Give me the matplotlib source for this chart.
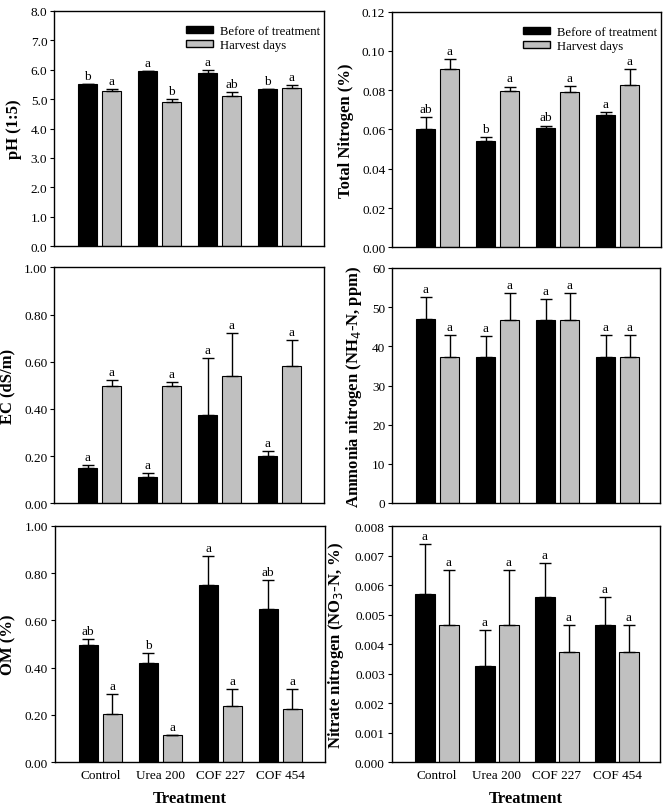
import matplotlib
matplotlib.use("Agg")
import matplotlib.pyplot as plt
import numpy as np
from matplotlib.patches import Patch

plt.rcParams['font.family'] = ['Liberation Serif', 'DejaVu Serif']

treatments = ["Control", "Urea 200", "COF 227", "COF 454"]
series_names = ["Before of treatment", "Harvest days"]

ph_before = [5.50, 5.96, 5.88, 5.34]
ph_before_err = [0.0, 0.0, 0.09, 0.0]
ph_harvest = [5.27, 4.89, 5.12, 5.38]
ph_harvest_err = [0.06, 0.11, 0.11, 0.10]
ph_letters_before = ["b", "a", "a", "b"]
ph_letters_harvest = ["a", "b", "ab", "a"]

tn_before = [0.0601, 0.0543, 0.0607, 0.0672]
tn_before_err = [0.0061, 0.0017, 0.0013, 0.0019]
tn_harvest = [0.0906, 0.0794, 0.0789, 0.0825]
tn_harvest_err = [0.0055, 0.0025, 0.0034, 0.0085]
tn_letters_before = ["ab", "b", "ab", "a"]
tn_letters_harvest = ["a", "a", "a", "a"]

ec_before = [0.150, 0.112, 0.373, 0.200]
ec_before_err = [0.011, 0.018, 0.244, 0.022]
ec_harvest = [0.496, 0.496, 0.538, 0.580]
ec_harvest_err = [0.028, 0.017, 0.182, 0.110]
ec_letters_before = ["a", "a", "a", "a"]
ec_letters_harvest = ["a", "a", "a", "a"]

nh_before = [47.1, 37.4, 46.8, 37.4]
nh_before_err = [5.4, 5.2, 5.2, 5.4]
nh_harvest = [37.4, 46.8, 46.8, 37.4]
nh_harvest_err = [5.4, 6.7, 6.7, 5.4]
nh_letters_before = ["a", "a", "a", "a"]
nh_letters_harvest = ["a", "a", "a", "a"]

om_before = [0.496, 0.420, 0.748, 0.648]
om_before_err = [0.025, 0.041, 0.122, 0.121]
om_harvest = [0.203, 0.114, 0.237, 0.227]
om_harvest_err = [0.085, 0.003, 0.072, 0.082]
om_letters_before = ["ab", "b", "a", "ab"]
om_letters_harvest = ["a", "a", "a", "a"]

no_before = [0.00570, 0.00327, 0.00560, 0.00464]
no_before_err = [0.00170, 0.00120, 0.00116, 0.00096]
no_harvest = [0.00464, 0.00464, 0.00373, 0.00373]
no_harvest_err = [0.00187, 0.00187, 0.00091, 0.00091]
no_letters_before = ["a", "a", "a", "a"]
no_letters_harvest = ["a", "a", "a", "a"]

W, H = 669, 812
fig = plt.figure(figsize=(W / 100, H / 100), dpi=100)

def add_ax(left, top, right, bottom):
    return fig.add_axes([left / W, (H - bottom) / H, (right - left) / W, (bottom - top) / H]), right - left

panels = [
    dict(box=(54.3, 11.7, 324.3, 247.3), before=ph_before, be=ph_before_err, harvest=ph_harvest, he=ph_harvest_err,
         lb=ph_letters_before, lh=ph_letters_harvest, ylim=(0, 8), step=1.0, fmt="{:.1f}", ylabel="pH (1:5)", legend=True),
    dict(box=(392.3, 12.7, 660.7, 248.3), before=tn_before, be=tn_before_err, harvest=tn_harvest, he=tn_harvest_err,
         lb=tn_letters_before, lh=tn_letters_harvest, ylim=(0, 0.12), step=0.02, fmt="{:.2f}", ylabel="Total Nitrogen (%)", legend=True),
    dict(box=(54.3, 268.3, 324.3, 504.3), before=ec_before, be=ec_before_err, harvest=ec_harvest, he=ec_harvest_err,
         lb=ec_letters_before, lh=ec_letters_harvest, ylim=(0, 1.0), step=0.2, fmt="{:.2f}", ylabel="EC (dS/m)", legend=False),
    dict(box=(392.3, 269.0, 660.0, 504.0), before=nh_before, be=nh_before_err, harvest=nh_harvest, he=nh_harvest_err,
         lb=nh_letters_before, lh=nh_letters_harvest, ylim=(0, 60), step=10, fmt="{:.0f}", ylabel="Ammonia nitrogen (NH$_4$-N, ppm)", legend=False),
    dict(box=(55.0, 526.7, 325.0, 763.3), before=om_before, be=om_before_err, harvest=om_harvest, he=om_harvest_err,
         lb=om_letters_before, lh=om_letters_harvest, ylim=(0, 1.0), step=0.2, fmt="{:.2f}", ylabel="OM (%)", legend=False, xt=True),
    dict(box=(391.7, 527.3, 660.0, 763.3), before=no_before, be=no_before_err, harvest=no_harvest, he=no_harvest_err,
         lb=no_letters_before, lh=no_letters_harvest, ylim=(0, 0.008), step=0.001, fmt="{:.3f}", ylabel="Nitrate nitrogen (NO$_3$-N, %)", legend=False, xt=True),
]

x = np.arange(len(treatments))
bw = 0.32
off = 0.2
for p in panels:
    ax, wpx = add_ax(*p["box"])
    x0 = -0.755
    ax.set_xlim(x0, x0 + wpx / 60.0)
    ax.set_ylim(*p["ylim"])
    ek = dict(ecolor="black", elinewidth=1.0, capsize=4, capthick=1.0)
    ax.bar(x - off, p["before"], bw, color="black", edgecolor="black", linewidth=0.8,
           yerr=[np.zeros(4), p["be"]], error_kw=ek, zorder=2)
    ax.bar(x + off, p["harvest"], bw, color="#c0c0c0", edgecolor="black", linewidth=0.8,
           yerr=[np.zeros(4), p["he"]], error_kw=ek, zorder=2)
    for i in range(4):
        ax.annotate(p["lb"][i], (x[i] - off, p["before"][i] + p["be"][i]), xytext=(0, 1.5),
                    textcoords="offset points", ha="center", va="bottom", fontsize=9.5)
        ax.annotate(p["lh"][i], (x[i] + off, p["harvest"][i] + p["he"][i]), xytext=(0, 1.5),
                    textcoords="offset points", ha="center", va="bottom", fontsize=9.5)
    lo, hi = p["ylim"]
    ticks = np.arange(lo, hi + p["step"] / 2, p["step"])
    ax.set_yticks(ticks)
    ax.set_yticklabels([p["fmt"].format(t) for t in ticks], fontsize=9.5)
    ax.tick_params(axis="y", direction="out", length=3, width=0.8, pad=2)
    ax.tick_params(axis="x", length=0)
    for s in ax.spines.values():
        s.set_linewidth(1.0)
    ax.set_ylabel(p["ylabel"], fontsize=12, fontweight="bold", labelpad=6)
    if p.get("xt"):
        ax.set_xticks(x)
        ax.set_xticklabels(treatments, fontsize=9.5)
        ax.tick_params(axis="x", pad=4.5)
        ax.set_xlabel("Treatment", fontsize=12, fontweight="bold", labelpad=7)
    else:
        ax.set_xticks([])
    if p["legend"]:
        handles = [Patch(facecolor="black", edgecolor="black", label=series_names[0]),
                   Patch(facecolor="#c0c0c0", edgecolor="black", label=series_names[1])]
        ax.legend(handles=handles, loc="upper right", frameon=False, fontsize=9.2,
                  handlelength=2.1, handleheight=0.55, handletextpad=0.55, labelspacing=0.15,
                  borderaxespad=0.1, borderpad=0.2, bbox_to_anchor=(1.0, 0.955))

fig.savefig("out.png", dpi=100)
